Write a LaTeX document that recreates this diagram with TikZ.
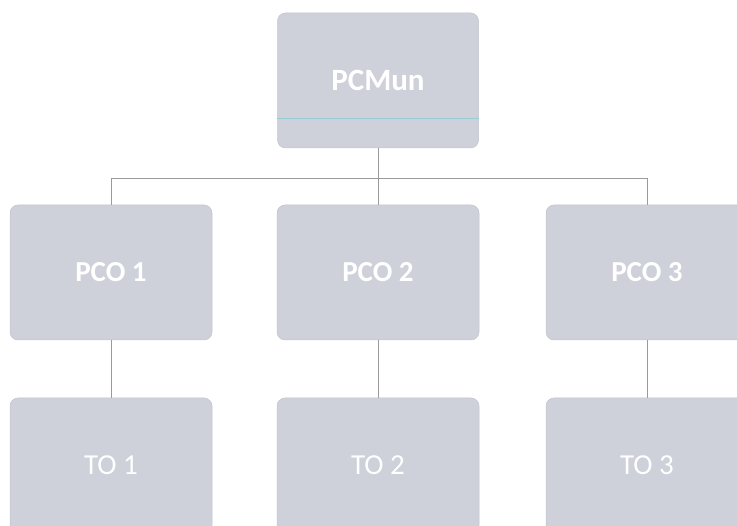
\documentclass[tikz,border=0pt]{standalone}
\usepackage{fontspec}
\setmainfont{Carlito}
\definecolor{boxfill}{RGB}{206,208,218}
\definecolor{linegray}{RGB}{155,155,155}
\definecolor{tealline}{RGB}{150,205,212}
\begin{document}
\begin{tikzpicture}[x=1pt,y=-1pt,
  orgbox/.style={draw=boxfill!94!black, line width=0.5pt, fill=boxfill, rounded corners=8pt,
    minimum width=202pt, minimum height=135pt, inner sep=0pt, text=white},
  boldlbl/.style={font=\fontsize{29}{30}\selectfont\bfseries},
  plainlbl/.style={font=\fontsize{29}{30}\selectfont},
  conn/.style={draw=linegray, line width=0.8pt}]
\useasboundingbox (0,0) rectangle (737,526);
\node[orgbox, minimum width=201pt, font=\fontsize{31}{32}\selectfont\bfseries] (pcmun) at (378,80.5) {PCMun};
\node[orgbox, boldlbl] (pco1) at (111,272.5) {PCO 1};
\node[orgbox, boldlbl] (pco2) at (378,272.5) {PCO 2};
\node[orgbox, boldlbl] (pco3) at (647,272.5) {PCO 3};
\node[orgbox, plainlbl] (to1) at (111,465.5) {TO 1};
\node[orgbox, plainlbl] (to2) at (378,465.5) {TO 2};
\node[orgbox, plainlbl] (to3) at (647,465.5) {TO 3};
\draw[tealline, line width=0.8pt] ([yshift=-37.5pt]pcmun.west) -- ([yshift=-37.5pt]pcmun.east);
\coordinate (bus) at (378,178.5);
\draw[conn] (pcmun.south) -- (bus);
\draw[conn] (pco1.north) |- (bus) -| (pco3.north);
\draw[conn] (bus) -- (pco2.north);
\draw[conn] (pco1.south) -- (to1.north);
\draw[conn] (pco2.south) -- (to2.north);
\draw[conn] (pco3.south) -- (to3.north);
\end{tikzpicture}
\end{document}
